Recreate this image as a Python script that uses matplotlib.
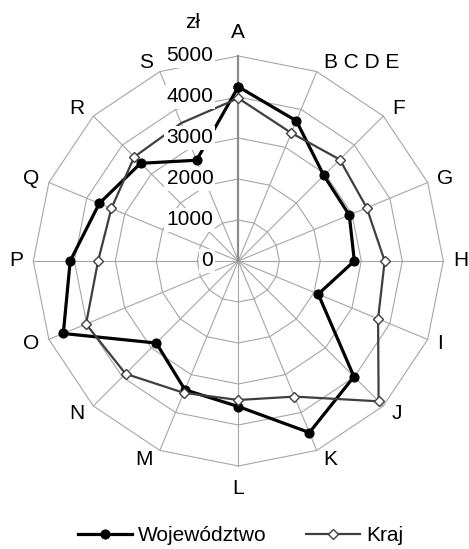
import numpy as np
import matplotlib
matplotlib.use("Agg")
import matplotlib.pyplot as plt
from matplotlib.lines import Line2D

# dane
categories = ["A", "B C D E", "F", "G", "H", "I", "J", "K", "L",
              "M", "N", "O", "P", "Q", "R", "S"]
wojewodztwo = [4250, 3700, 2950, 2930, 2830, 2110, 3990, 4530, 3550,
               3400, 2830, 4620, 4100, 3670, 3370, 2660]
kraj = [3970, 3380, 3500, 3390, 3570, 3690, 4840, 3580, 3390,
        3480, 3890, 4020, 3420, 3350, 3590, 3640]
ticks = [0, 1000, 2000, 3000, 4000, 5000]
unit = "zł"
series_names = ["Województwo", "Kraj"]

plt.rcParams['font.family'] = ['Liberation Sans', 'DejaVu Sans']
FS = 15

fig = plt.figure(figsize=(4.69, 5.49), dpi=100)
ax = fig.add_axes([0.0710, 0.1512, 0.8742, 0.7468], projection="polar")
ax.set_theta_offset(np.pi / 2)
ax.set_theta_direction(-1)
ax.axis("off")
ax.set_ylim(0, ticks[-1])

n = len(categories)
theta = np.arange(n) * 2 * np.pi / n
theta_closed = np.append(theta, theta[0])

# siatka wielokatna
grid_color = "#a6a6a6"
for v in ticks[1:]:
    ax.plot(theta_closed, [v] * (n + 1), color=grid_color, lw=0.8, zorder=1, clip_on=False)
for i, t in enumerate(theta):
    if i == 0:
        ax.plot([t, t], [0, ticks[-1]], color="#8c8c8c", lw=1.6, zorder=1.5, clip_on=False)
    else:
        ax.plot([t, t], [0, ticks[-1]], color=grid_color, lw=0.8, zorder=1, clip_on=False)

# serie
woj_style = dict(color="black", lw=2.3, marker="o", markersize=6.3,
                 markerfacecolor="black", markeredgecolor="black")
kraj_style = dict(color="#3f3f3f", lw=1.6, marker="D", markersize=5,
                  markerfacecolor="white", markeredgecolor="#3f3f3f", markeredgewidth=1.0)

ax.plot(theta_closed, wojewodztwo + wojewodztwo[:1], zorder=3, clip_on=False, **woj_style)
ax.plot(theta_closed, kraj + kraj[:1], color=kraj_style["color"], lw=kraj_style["lw"],
        zorder=4, clip_on=False)
# znacznik przy S zasloniety opisem osi
ax.plot(theta[:-1], kraj[:-1], ls="none", zorder=4, clip_on=False,
        **{k: v for k, v in kraj_style.items() if k not in ("color", "lw")})

# etykiety kategorii
for t, lab in zip(theta, categories):
    cx = np.sin(t)
    sy = np.cos(t)
    if abs(cx) < 0.1:
        ha = "center"
        dx = 0
        dy = 23 * np.sign(sy)
    else:
        ha = "left" if cx > 0 else "right"
        dx = np.sign(cx) * (5 + 5 * abs(cx))
        dy = 9 * np.sign(sy) * min(1.0, 1.2 * abs(sy))
    ax.annotate(lab, xy=(t, ticks[-1]), xytext=(dx, dy), textcoords="offset pixels",
                ha=ha, va="center", fontsize=FS, annotation_clip=False)

# opisy osi wartosci
for v in ticks:
    ax.annotate(str(v), xy=(0, v), xytext=(-25, 0), textcoords="offset pixels",
                ha="right", va="center", fontsize=FS, zorder=6, annotation_clip=False,
                bbox=dict(facecolor="white", edgecolor="none", pad=1.5))
ax.annotate(unit, xy=(0, ticks[-1]), xytext=(-46, 33), textcoords="offset pixels",
            ha="center", va="center", fontsize=FS, annotation_clip=False)

handles = [Line2D([], [], **woj_style), Line2D([], [], **kraj_style)]
fig.legend(handles, series_names, loc="center", bbox_to_anchor=(0.513, 0.024), ncol=2,
           frameon=False, fontsize=FS, handlelength=2.6, handletextpad=0.3,
           columnspacing=1.9, numpoints=1)

fig.savefig("out.png", dpi=100)
